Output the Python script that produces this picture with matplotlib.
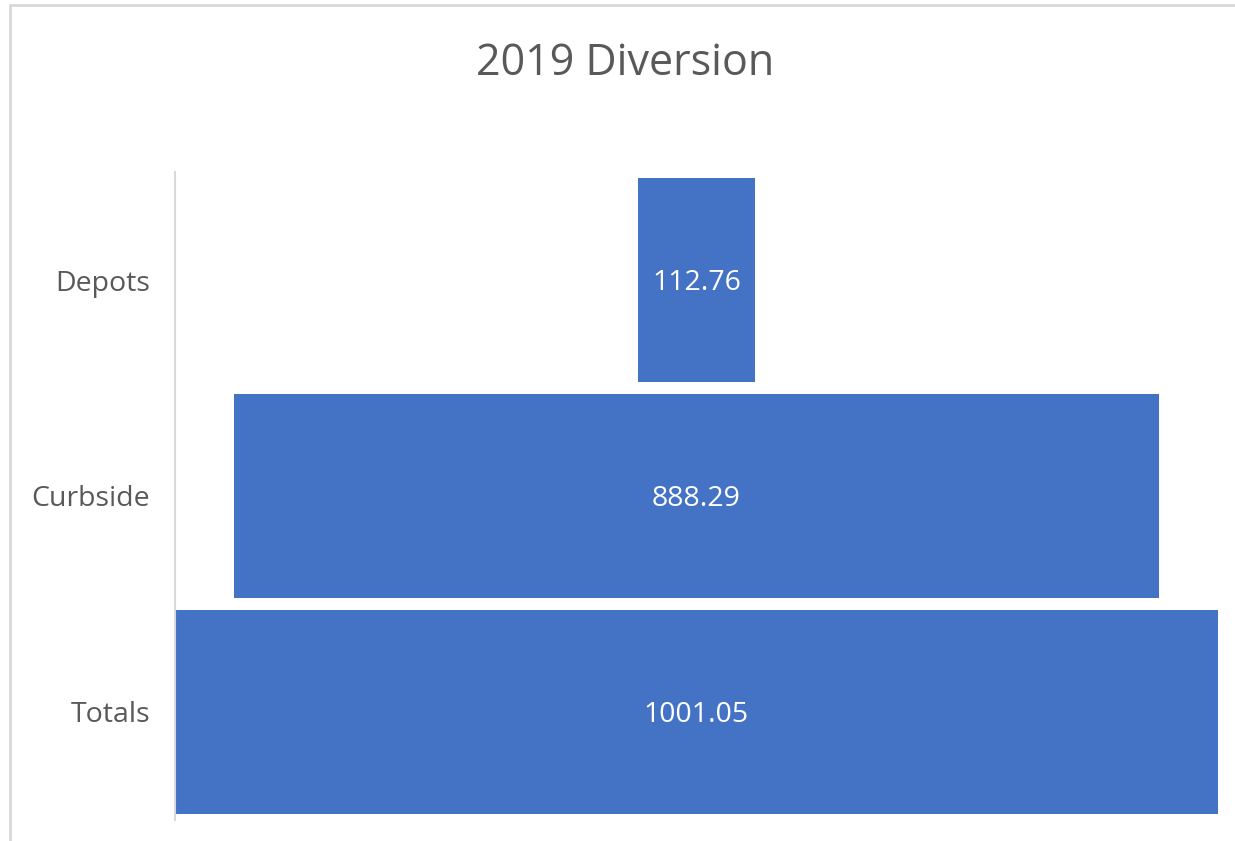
import matplotlib.pyplot as plt
from matplotlib.patches import Rectangle

# funnel data
categories = ['Depots', 'Curbside', 'Totals']
values = [112.76, 888.29, 1001.05]

plt.rcParams['font.family'] = ['Open Sans', 'DejaVu Sans']

fig = plt.figure(figsize=(12.35, 8.41), dpi=100)

# chart frame (light gray, only top/left edges visible in reference)
fig.patches.append(Rectangle((10 / 1235, -0.1), 1.2, 1 - 5 / 841 + 0.1,
                             transform=fig.transFigure, fill=False,
                             edgecolor='#d9d9d9', linewidth=2))

ax = fig.add_axes([175 / 1235, 21 / 841, 1043 / 1235, 648 / 841])

vmax = max(values)
ypos = list(range(len(categories)))[::-1]
lefts = [(vmax - v) / 2 for v in values]
ax.barh(ypos, values, left=lefts, height=0.94, color='#4472C4')

for y, v, l in zip(ypos, values, lefts):
    ax.text(l + v / 2, y, f'{v:.2f}', ha='center', va='center_baseline',
            color='white', fontsize=20.5)

ax.set_xlim(0, vmax)
ax.set_ylim(-0.5, len(categories) - 0.5)
ax.set_yticks(ypos)
ax.set_yticklabels(categories, fontsize=20.5, color='#595959')
ax.tick_params(axis='y', length=0, pad=18)
ax.set_xticks([])
for s in ['top', 'right', 'bottom']:
    ax.spines[s].set_visible(False)
ax.spines['left'].set_color('#d9d9d9')
ax.spines['left'].set_linewidth(1.5)

fig.text(625 / 1235, 1 - 64 / 841, '2019 Diversion', ha='center', va='center',
         fontsize=31, color='#595959')

fig.savefig('out.png', dpi=100)
